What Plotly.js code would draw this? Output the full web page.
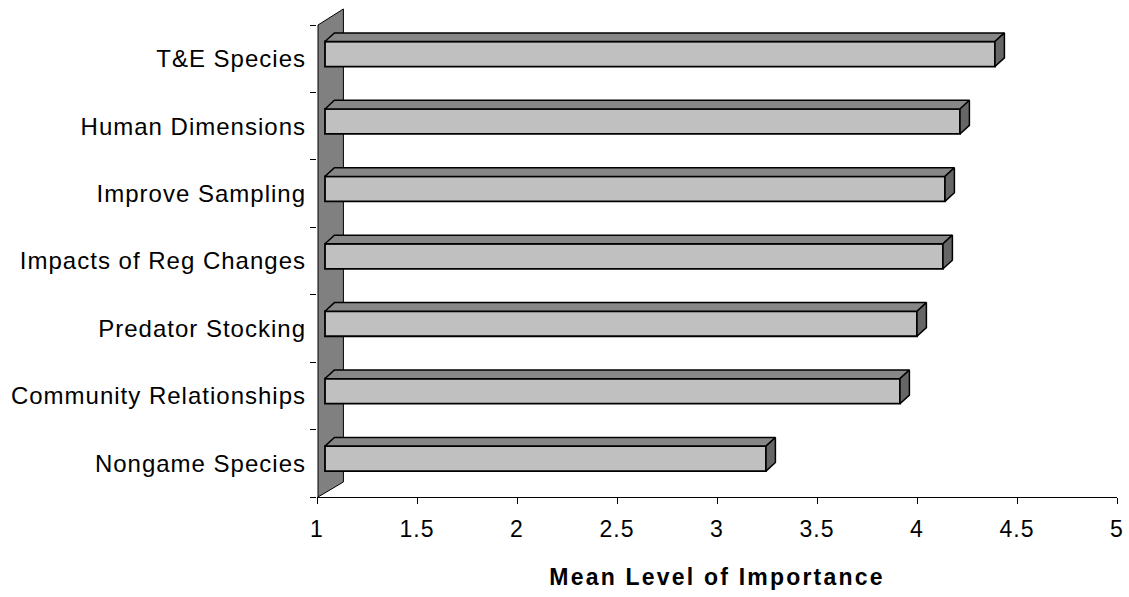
<!DOCTYPE html>
<html>
<head>
<meta charset="utf-8">
<script src="https://cdn.plot.ly/plotly-3.0.1.min.js"></script>
<style>
  html, body { margin: 0; padding: 0; background: #fff; }
  #chart { width: 1129px; height: 597px; }
  .xtick text, .ytick text { letter-spacing: 1.0px; }
  .g-xtitle text { letter-spacing: 2.2px; }
</style>
</head>
<body>
<div id="chart"></div>
<script>
// ---- data (top to bottom) ----
const categories = [
  "T&E Species",
  "Human Dimensions",
  "Improve Sampling",
  "Impacts of Reg Changes",
  "Predator Stocking",
  "Community Relationships",
  "Nongame Species"
];
const meanImportance = [4.39, 4.215, 4.14, 4.13, 4.00, 3.915, 3.245];
const xTickVals = [1, 1.5, 2, 2.5, 3, 3.5, 4, 4.5, 5];
const xTickText = ["1", "1.5", "2", "2.5", "3", "3.5", "4", "4.5", "5"];
const xTitle = "Mean Level of Importance";

// ---- style constants (3-D look) ----
const BASE = 1.04;     // front face starts slightly in front of the wall
const DX = 0.047;      // depth offset along x (data units)
const DY = 0.128;      // depth offset along y (category units)
const OFF = -0.255;    // bar offset from category centre
const W = 0.371;       // bar thickness

const pos = categories.map((c, i) => i);

// front faces
const front = {
  type: "bar",
  orientation: "h",
  y: pos,
  x: meanImportance.map(v => v - BASE),
  base: meanImportance.map(() => BASE),
  offset: OFF,
  width: W,
  marker: { color: "#c0c0c0", line: { color: "#000", width: 1.8 } },
  hoverinfo: "skip",
  showlegend: false
};

// top faces & end caps (built from data values)
const topX = [], topY = [], capX = [], capY = [];
meanImportance.forEach((v, i) => {
  const t = pos[i] + OFF, b = pos[i] + OFF + W;
  topX.push(BASE, BASE + DX, v + DX, v, BASE, null);
  topY.push(t, t - DY, t - DY, t, t, null);
  capX.push(v, v + DX, v + DX, v, v, null);
  capY.push(t, t - DY, b - DY, b, t, null);
});
const topFace = {
  type: "scatter", mode: "lines", x: topX, y: topY,
  fill: "toself", fillcolor: "#878787",
  line: { color: "#000", width: 1.5 }, hoverinfo: "skip", showlegend: false
};
const capFace = {
  type: "scatter", mode: "lines", x: capX, y: capY,
  fill: "toself", fillcolor: "#666666",
  line: { color: "#000", width: 1.5 }, hoverinfo: "skip", showlegend: false
};

const bounds = [];
for (let i = 0; i <= categories.length; i++) bounds.push(i - 0.5);

const FONT = "Liberation Sans, Arial, sans-serif";

const layout = {
  width: 1129, height: 597,
  margin: { l: 317, r: 12, t: 25, b: 100, pad: 0 },
  paper_bgcolor: "#fff", plot_bgcolor: "rgba(0,0,0,0)",
  showlegend: false,
  font: { family: FONT, size: 20, color: "#000" },
  xaxis: {
    range: [1, 5],
    tickvals: xTickVals, ticktext: xTickText,
    ticks: "outside", ticklen: 6, tickwidth: 1, tickcolor: "#000",
    showline: true, linecolor: "#000", linewidth: 1,
    showgrid: false, zeroline: false,
    tickfont: { family: FONT, size: 23, color: "#000" },
    ticklabelstandoff: 5,
    title: { text: xTitle, font: { family: FONT, size: 23, weight: "bold", color: "#000" }, standoff: 28 },
    automargin: false, fixedrange: true
  },
  yaxis: {
    range: [categories.length - 0.5, -0.5],
    tickvals: pos, ticktext: categories,
    ticks: "", showline: false, showgrid: false, zeroline: false,
    tickfont: { family: FONT, size: 24, color: "#000" },
    ticklabelstandoff: 10,
    minor: { tickvals: bounds, ticks: "outside", ticklen: 6, tickwidth: 1, tickcolor: "#000", showgrid: false },
    automargin: false, fixedrange: true
  },
  shapes: [
    {
      type: "path", xref: "paper", yref: "paper", layer: "below",
      path: "M 0.00125 0 L 0.00125 1 L 0.033 1.0339 L 0.033 0.0318 Z",
      fillcolor: "#808080", line: { color: "#000", width: 1 }
    }
  ]
};

Plotly.newPlot("chart", [front, topFace, capFace], layout, { displayModeBar: false, staticPlot: true });
</script>
</body>
</html>
